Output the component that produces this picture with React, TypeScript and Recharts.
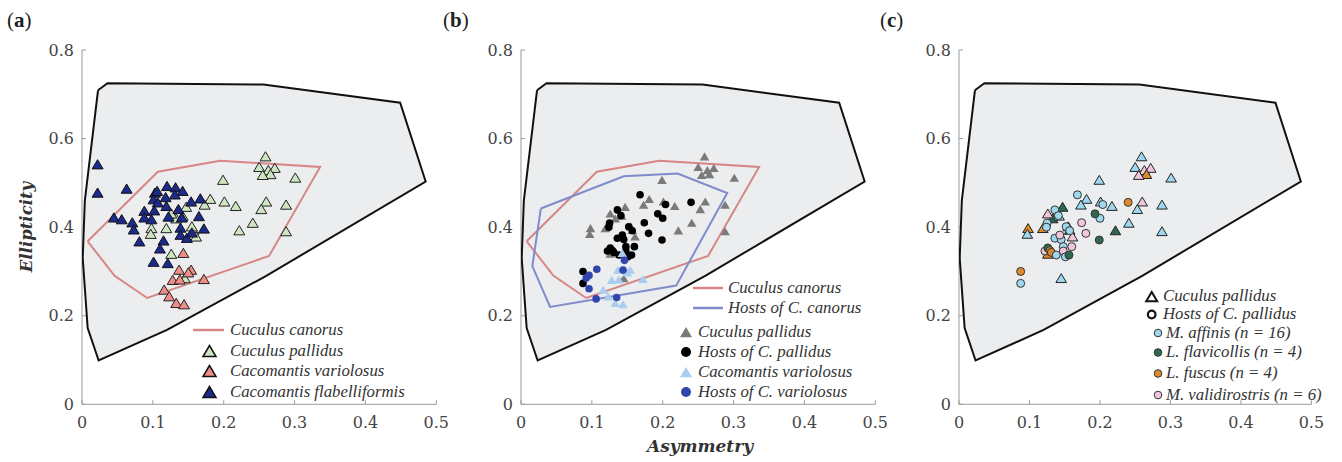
import React from 'react';
import { ScatterChart, Scatter, XAxis, YAxis } from 'recharts';

// ---------- data ----------
const xTicks = [0, 0.1, 0.2, 0.3, 0.4, 0.5];
const yTicks = [0, 0.2, 0.4, 0.6, 0.8];

// shared egg-shape space (convex hull)
const hullPoly = [
  [0.0226, 0.709], [0.036, 0.725], [0.256, 0.722], [0.449, 0.681], [0.485, 0.503],
  [0.26, 0.29], [0.12, 0.168], [0.0235, 0.099], [0.008, 0.172], [0.001, 0.33],
  [0.004, 0.46], [0.0226, 0.709],
];

const canorusPoly = [
  [0.008, 0.368], [0.107, 0.525], [0.195, 0.55], [0.336, 0.536], [0.264, 0.335],
  [0.092, 0.24], [0.046, 0.29], [0.008, 0.368],
];

const canorusHostsPoly = [
  [0.028, 0.442], [0.145, 0.515], [0.221, 0.521], [0.291, 0.477], [0.219, 0.268],
  [0.041, 0.22], [0.016, 0.312], [0.028, 0.442],
];

// Cuculus pallidus eggs: x, y, host index
const pallidus = [
  [0.259, 0.558, 0], [0.25, 0.534, 0], [0.263, 0.527, 3], [0.272, 0.532, 3], [0.266, 0.518, 2],
  [0.255, 0.516, 3], [0.301, 0.51, 0], [0.199, 0.505, 0], [0.181, 0.462, 0], [0.173, 0.449, 0],
  [0.201, 0.456, 0], [0.217, 0.446, 0], [0.26, 0.456, 3], [0.253, 0.439, 0], [0.288, 0.449, 0],
  [0.241, 0.408, 0], [0.222, 0.391, 1], [0.288, 0.389, 0], [0.147, 0.444, 1], [0.133, 0.418, 1],
  [0.126, 0.429, 3], [0.142, 0.424, 0], [0.098, 0.396, 2], [0.097, 0.383, 0], [0.119, 0.396, 2],
  [0.157, 0.392, 1], [0.161, 0.377, 3], [0.126, 0.338, 2], [0.145, 0.283, 0], [0.155, 0.4, 0],
];

const variolosus = [
  [0.143, 0.34], [0.137, 0.302], [0.154, 0.302], [0.15, 0.296], [0.128, 0.279], [0.138, 0.28],
  [0.172, 0.281], [0.116, 0.257], [0.123, 0.242], [0.133, 0.227], [0.144, 0.224],
];

const flabelliformis = [
  [0.022, 0.54], [0.022, 0.476], [0.063, 0.485], [0.045, 0.42], [0.056, 0.416], [0.071, 0.409],
  [0.073, 0.393], [0.081, 0.366], [0.088, 0.435], [0.088, 0.42], [0.098, 0.416], [0.103, 0.476],
  [0.106, 0.48], [0.101, 0.461], [0.107, 0.454], [0.102, 0.436], [0.12, 0.491], [0.132, 0.488],
  [0.142, 0.48], [0.118, 0.466], [0.131, 0.472], [0.119, 0.446], [0.136, 0.439], [0.154, 0.456],
  [0.167, 0.463], [0.122, 0.422], [0.141, 0.42], [0.165, 0.423], [0.139, 0.397], [0.139, 0.381],
  [0.148, 0.374], [0.155, 0.386], [0.172, 0.395], [0.115, 0.368], [0.11, 0.35], [0.101, 0.32],
  [0.121, 0.317],
];

// hosts of C. pallidus: x, y, species index
const pallidusHosts = [
  [0.168, 0.473, 0], [0.204, 0.451, 0], [0.2, 0.42, 0], [0.193, 0.43, 1], [0.24, 0.456, 2],
  [0.174, 0.41, 3], [0.18, 0.386, 3], [0.199, 0.371, 1], [0.136, 0.439, 0], [0.141, 0.426, 0],
  [0.125, 0.409, 0], [0.124, 0.4, 0], [0.152, 0.401, 0], [0.157, 0.392, 0], [0.143, 0.378, 0],
  [0.136, 0.375, 0], [0.145, 0.372, 0], [0.143, 0.382, 3], [0.148, 0.356, 0], [0.122, 0.346, 3],
  [0.126, 0.353, 1], [0.129, 0.347, 2], [0.131, 0.343, 2], [0.148, 0.346, 3], [0.16, 0.356, 3],
  [0.138, 0.337, 0], [0.151, 0.333, 0], [0.156, 0.337, 1], [0.0875, 0.3, 2], [0.0875, 0.273, 0],
];

const variolosusHosts = [
  [0.107, 0.305], [0.096, 0.291], [0.092, 0.285], [0.096, 0.261], [0.106, 0.238],
  [0.135, 0.241], [0.144, 0.303], [0.146, 0.325],
];

const hostSpecies = ['M. affinis (n = 16)', 'L. flavicollis (n = 4)', 'L. fuscus (n = 4)', 'M. validirostris (n = 6)'];
const hostColors = ['#9dd8ef', '#2d6a4d', '#dd8a2c', '#f1c8db'];

// ---------- helpers ----------
const toXY = (arr: number[][]) => arr.map(([x, y, h]) => ({ x, y, h }));

const noShape = () => <g />;

const triShape = (fill: string, stroke: string | null, s: number) => (p: any) => {
  const { cx, cy } = p;
  if (cx == null || cy == null) return <g />;
  return (
    <polygon
      points={`${cx},${cy - s} ${cx - s},${cy + s * 0.68} ${cx + s},${cy + s * 0.68}`}
      fill={fill}
      stroke={stroke || 'none'}
      strokeWidth={1}
      strokeLinejoin="miter"
    />
  );
};

const triByHost = (s: number) => (p: any) => {
  const { cx, cy, payload } = p;
  if (cx == null || cy == null) return <g />;
  return (
    <polygon
      points={`${cx},${cy - s} ${cx - s},${cy + s * 0.68} ${cx + s},${cy + s * 0.68}`}
      fill={hostColors[payload.h]}
      stroke="#222"
      strokeWidth={1}
    />
  );
};

const circShape = (fill: string, stroke: string | null, r: number) => (p: any) => {
  const { cx, cy } = p;
  if (cx == null || cy == null) return <g />;
  return <circle cx={cx} cy={cy} r={r} fill={fill} stroke={stroke || 'none'} strokeWidth={1} />;
};

const circByHost = (r: number) => (p: any) => {
  const { cx, cy, payload } = p;
  if (cx == null || cy == null) return <g />;
  return <circle cx={cx} cy={cy} r={r} fill={hostColors[payload.h]} stroke="#333" strokeWidth={1} />;
};

const tickStyle = { fill: '#444', fontSize: 16, fontFamily: 'DejaVu Serif' };

function Panel({ left, plotW, children }: { left: number; plotW: number; children: any }) {
  const yw = 60;
  return (
    <div style={{ position: 'absolute', left, top: 0 }}>
      <ScatterChart
        width={yw + plotW + 12}
        height={454.3}
        margin={{ top: 50, right: 12, bottom: 10, left: 0 }}
      >
        <XAxis
          type="number"
          dataKey="x"
          domain={[0, 0.5]}
          ticks={xTicks}
          interval={0}
          height={40}
          stroke="#9a9a9a"
          tickSize={-4}
          tickMargin={16.5}
          tick={tickStyle}
          allowDataOverflow
        />
        <YAxis
          type="number"
          dataKey="y"
          domain={[0, 0.8]}
          ticks={yTicks}
          interval={0}
          width={yw}
          stroke="#9a9a9a"
          tickSize={-4}
          tickMargin={12}
          tick={tickStyle}
          allowDataOverflow
        />
        {children}
      </ScatterChart>
    </div>
  );
}

const hullSeries = (
  <Scatter
    key="hull"
    data={toXY(hullPoly)}
    line={{ stroke: '#111', strokeWidth: 2, fill: '#ebedef' }}
    shape={noShape}
    isAnimationActive={false}
    legendType="none"
  />
);

const canorusSeries = (
  <Scatter
    key="canorus"
    data={toXY(canorusPoly)}
    line={{ stroke: '#d78686', strokeWidth: 2, fill: 'none' }}
    shape={noShape}
    isAnimationActive={false}
    legendType="none"
  />
);

const canorusHostsSeries = (
  <Scatter
    key="canorusHosts"
    data={toXY(canorusHostsPoly)}
    line={{ stroke: '#7f8bcb', strokeWidth: 2, fill: 'none' }}
    shape={noShape}
    isAnimationActive={false}
    legendType="none"
  />
);

// ---------- overlay text / legends ----------
const serif = 'DejaVu Serif';
const legendFont = { fontFamily: 'Liberation Serif', fontStyle: 'italic' as const, fontSize: 16.8, fill: '#333' };

function Overlay() {
  const triPts = (cx: number, cy: number, s: number) =>
    `${cx},${cy - s} ${cx - s},${cy + s * 0.7} ${cx + s},${cy + s * 0.7}`;
  return (
    <svg
      width={1342}
      height={462}
      style={{ position: 'absolute', left: 0, top: 0, pointerEvents: 'none' }}
    >
      {/* panel letters */}
      <text x={7} y={27} fontFamily="Liberation Serif" fontSize={21} fill="#222">
        (<tspan fontWeight="bold">a</tspan>)
      </text>
      <text x={443} y={27} fontFamily="Liberation Serif" fontSize={21} fill="#222">
        (<tspan fontWeight="bold">b</tspan>)
      </text>
      <text x={880} y={27} fontFamily="Liberation Serif" fontSize={21} fill="#222">
        (<tspan fontWeight="bold">c</tspan>)
      </text>

      {/* axis titles */}
      <text
        x={0}
        y={0}
        transform="translate(32,227) rotate(-90)"
        textAnchor="middle"
        fontFamily={serif}
        fontStyle="italic"
        fontWeight="bold"
        fontSize={16.5}
        fill="#333"
      >
        Ellipticity
      </text>
      <text x={700} y={452} textAnchor="middle" fontFamily={serif} fontStyle="italic" fontWeight="bold" fontSize={17} fill="#333">
        Asymmetry
      </text>

      {/* legend (a) */}
      <line x1={193} x2={224} y1={330} y2={330} stroke="#d78686" strokeWidth={2.5} />
      <text x={230} y={334.5} {...legendFont}>Cuculus canorus</text>
      <polygon points={triPts(209.5, 352, 6.5)} fill="#cde5c1" stroke="#111" strokeWidth={1.5} />
      <text x={230} y={355.5} {...legendFont}>Cuculus pallidus</text>
      <polygon points={triPts(209.5, 372, 6.5)} fill="#f08c88" stroke="#111" strokeWidth={1.5} />
      <text x={230} y={375.5} {...legendFont}>Cacomantis variolosus</text>
      <polygon points={triPts(209.5, 393, 6.5)} fill="#1c2a8c" stroke="#111" strokeWidth={1.5} />
      <text x={230} y={396.5} {...legendFont}>Cacomantis flabelliformis</text>

      {/* legend (b) */}
      <line x1={693} x2={723} y1={288} y2={288} stroke="#d78686" strokeWidth={2.5} />
      <text x={728} y={292.5} {...legendFont}>Cuculus canorus</text>
      <line x1={693} x2={723} y1={308} y2={308} stroke="#7f8bcb" strokeWidth={2.5} />
      <text x={728} y={312.5} {...legendFont}>Hosts of C. canorus</text>
      <polygon points={triPts(686, 333, 6)} fill="#7a7a7a" />
      <text x={698} y={336.5} {...legendFont}>Cuculus pallidus</text>
      <circle cx={686} cy={352} r={5} fill="#000" />
      <text x={698} y={356.5} {...legendFont}>Hosts of C. pallidus</text>
      <polygon points={triPts(686, 373, 6)} fill="#a9cdee" />
      <text x={698} y={376.5} {...legendFont}>Cacomantis variolosus</text>
      <circle cx={686} cy={392} r={5} fill="#3146ad" />
      <text x={698} y={396.5} {...legendFont}>Hosts of C. variolosus</text>

      {/* legend (c) */}
      <polygon points={triPts(1151.7, 297.5, 5.5)} fill="none" stroke="#111" strokeWidth={2} />
      <text x={1163} y={300.5} {...legendFont}>Cuculus pallidus</text>
      <circle cx={1151.7} cy={314.5} r={3.8} fill="none" stroke="#111" strokeWidth={2.2} />
      <text x={1163} y={318.5} {...legendFont}>Hosts of C. pallidus</text>
      {hostSpecies.map((name, i) => {
        const ys = [333, 352.5, 373.5, 395];
        return (
          <g key={name}>
            <circle cx={1158} cy={ys[i]} r={3.8} fill={hostColors[i]} stroke="#333" strokeWidth={1} />
            <text x={1166} y={ys[i] + 4.5} {...legendFont}>{name}</text>
          </g>
        );
      })}
    </svg>
  );
}

export default function App() {
  return (
    <div style={{ position: 'absolute', left: 0, top: 0, width: 1342, height: 462, background: '#fff' }}>
      {/* (a) */}
      <Panel left={21.7} plotW={354.3}>
        {hullSeries}
        {canorusSeries}
        <Scatter data={toXY(pallidus)} shape={triShape('#cde5c1', '#222', 5.5)} isAnimationActive={false} />
        <Scatter data={toXY(variolosus)} shape={triShape('#f08c88', '#222', 5.5)} isAnimationActive={false} />
        <Scatter data={toXY(flabelliformis)} shape={triShape('#1c2a8c', '#111', 5.5)} isAnimationActive={false} />
      </Panel>

      {/* (b) */}
      <Panel left={460.7} plotW={354.3}>
        {hullSeries}
        {canorusSeries}
        {canorusHostsSeries}
        <Scatter data={toXY(pallidus)} shape={triShape('#7a7a7a', null, 4.8)} isAnimationActive={false} />
        <Scatter data={toXY(pallidusHosts)} shape={circShape('#000', null, 3.8)} isAnimationActive={false} />
        <Scatter data={toXY(variolosus)} shape={triShape('#a9cdee', null, 4.8)} isAnimationActive={false} />
        <Scatter data={toXY(variolosusHosts)} shape={circShape('#3146ad', null, 3.8)} isAnimationActive={false} />
      </Panel>

      {/* (c) */}
      <Panel left={899.3} plotW={352.4}>
        {hullSeries}
        <Scatter data={toXY(pallidus)} shape={triByHost(5.3)} isAnimationActive={false} />
        <Scatter data={toXY(pallidusHosts)} shape={circByHost(4)} isAnimationActive={false} />
      </Panel>

      <Overlay />
    </div>
  );
}
